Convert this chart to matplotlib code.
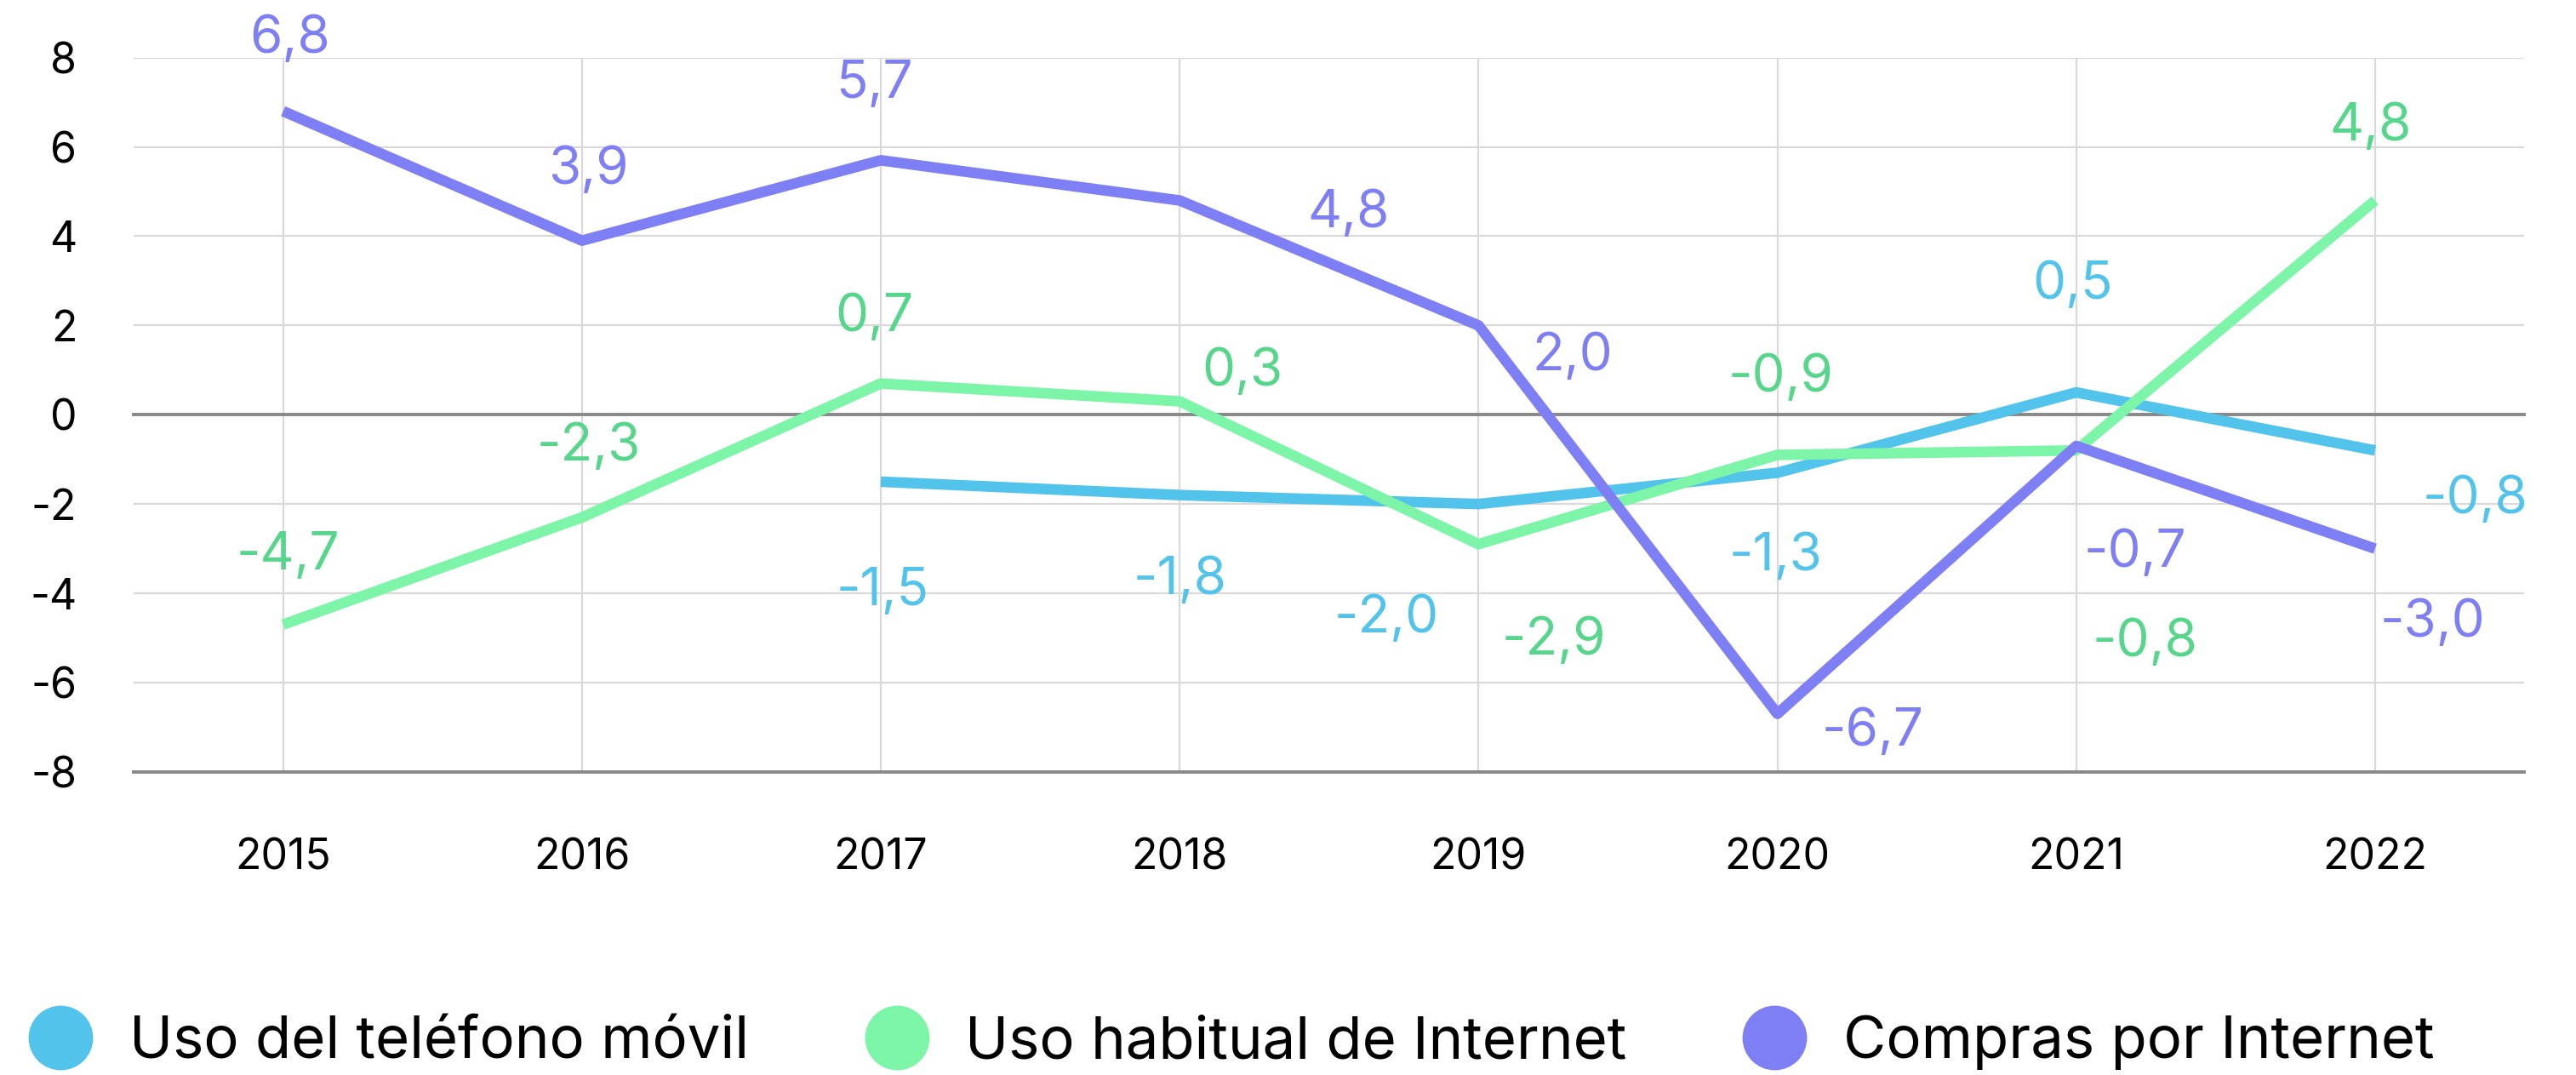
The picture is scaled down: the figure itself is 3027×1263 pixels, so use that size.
import matplotlib
matplotlib.use("Agg")
import matplotlib.pyplot as plt
from matplotlib.lines import Line2D
import numpy as np

years = ["2015", "2016", "2017", "2018", "2019", "2020", "2021", "2022"]
movil = [np.nan, np.nan, -1.5, -1.8, -2.0, -1.3, 0.5, -0.8]
internet = [-4.7, -2.3, 0.7, 0.3, -2.9, -0.9, -0.8, 4.8]
compras = [6.8, 3.9, 5.7, 4.8, 2.0, -6.7, -0.7, -3.0]
series_names = ["Uso del teléfono móvil", "Uso habitual de Internet", "Compras por Internet"]
yticks = [-8, -6, -4, -2, 0, 2, 4, 6, 8]

# styling
line_colors = ["#52C3EB", "#7DF5A8", "#7F7FF5"]
label_colors = ["#52C3EB", "#55D68A", "#7F7FF5"]
# label offsets in points (dx, dy)
off_movil = [None, None, (0.7, -46.6), (0, -36.1), (-38.9, -48.7), (-0.7, -35.4), (-1.4, 45.2), (42.4, -20.9)]
off_internet = [(2, 29.2), (2.8, 29.9), (-2.8, 27.8), (26.4, 12.5), (32, -41), (1.4, 32.7), (29.2, -81.3), (-2, 31.3)]
off_compras = [(2.8, 30.6), (2.8, 29.9), (-2.8, 32), (71.5, -5.6), (39.6, -13.2), (40.5, -7.6), (25, -45.2), (24.3, -31.3)]

FONT = "Inter"
plt.rcParams["font.family"] = [FONT, "DejaVu Sans"]

fig = plt.figure(figsize=(15.135, 6.315), dpi=200)
ax = fig.add_axes([0.0519, 0.282, 0.980 - 0.0519, 0.9464 - 0.282])
x = np.arange(len(years))

ax.set_xlim(-0.5, len(years) - 0.5)
ax.set_ylim(-8, 8)

for yv in yticks:
    if yv in (0, -8):
        ax.axhline(yv, color="#888888", lw=1.4, zorder=2, clip_on=False)
    else:
        ax.axhline(yv, color="#D9D9D9", lw=0.8, zorder=1)
for xv in x:
    ax.axvline(xv, color="#D9D9D9", lw=0.8, zorder=1)

data = [movil, internet, compras]
offs = [off_movil, off_internet, off_compras]
order = [1, 0, 2]
for i in order:
    vals = np.array(data[i], dtype=float)
    ax.plot(x, vals, color=line_colors[i], lw=4.5, solid_joinstyle="round", solid_capstyle="butt",
            zorder=3 + i)

for i in range(3):
    for xi, v, o in zip(x, data[i], offs[i]):
        if o is None or np.isnan(v):
            continue
        ax.annotate(f"{v:.1f}".replace(".", ","), (xi, v), xytext=o, textcoords="offset points",
                    ha="center", va="center", fontsize=22.3, color=label_colors[i], zorder=10)

for s in ax.spines.values():
    s.set_visible(False)
ax.set_xticks(x)
ax.set_xticklabels(years, fontsize=18)
ax.set_yticks(yticks)
ax.set_yticklabels([str(t) for t in yticks], fontsize=18)
ax.tick_params(axis="both", length=0, colors="black")
ax.tick_params(axis="y", pad=24)
ax.tick_params(axis="x", pad=28)

handles = [Line2D([], [], ls="", marker="o", ms=26.3, color=c) for c in line_colors]
fig.legend(handles, series_names, loc="center left", bbox_to_anchor=(0.0122, 0.030), ncol=3,
           frameon=False, fontsize=24.8, handlelength=1.0, handletextpad=0.67, columnspacing=2.02,
           borderpad=0, borderaxespad=0)

fig.savefig("out.png", dpi=200, facecolor="white")
